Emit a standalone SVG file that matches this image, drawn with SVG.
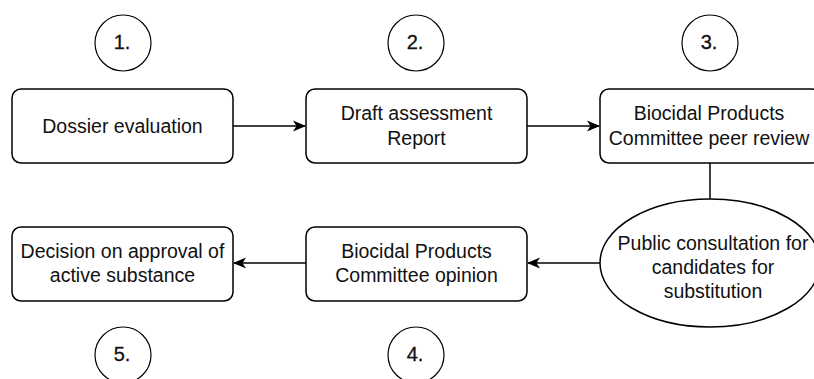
<svg xmlns="http://www.w3.org/2000/svg" width="814" height="379" viewBox="0 0 814 379">
<style>
.box{fill:#fff;stroke:#000;stroke-width:1.5}
.num{fill:#fff;stroke:#000;stroke-width:1.2}
text{font-family:"Liberation Sans",Arial,sans-serif;font-size:19.5px;fill:#111;text-anchor:middle}
.n{font-size:20px;stroke:#111;stroke-width:0.3}
.edge{fill:none;stroke:#000;stroke-width:1.5}
</style>
<defs>
<marker id="arr" markerWidth="14" markerHeight="12" refX="12" refY="6" orient="auto" markerUnits="userSpaceOnUse">
<path d="M0,0.5 L13,6 L0,11.5 L3.5,6 Z" fill="#000"/>
</marker>
</defs>
<rect width="814" height="379" fill="#fff"/>
<g id="connectors">
<line class="edge" x1="233" y1="126" x2="305" y2="126" marker-end="url(#arr)"/>
<line class="edge" x1="527" y1="126" x2="599" y2="126" marker-end="url(#arr)"/>
<line class="edge" x1="710" y1="163" x2="710" y2="199"/>
<line class="edge" x1="600" y1="263" x2="528" y2="263" marker-end="url(#arr)"/>
<line class="edge" x1="306" y1="263" x2="234" y2="263" marker-end="url(#arr)"/>
</g>
<g id="c1"><circle class="num" cx="123" cy="43" r="28"/><text class="n" x="122" y="49">1.</text></g>
<g id="c2"><circle class="num" cx="416" cy="43" r="28"/><text class="n" x="415" y="49">2.</text></g>
<g id="c3"><circle class="num" cx="710" cy="43" r="28"/><text class="n" x="709" y="49">3.</text></g>
<g id="c4"><circle class="num" cx="416" cy="355" r="28"/><text class="n" x="415" y="361">4.</text></g>
<g id="c5"><circle class="num" cx="123" cy="355" r="28"/><text class="n" x="122" y="361">5.</text></g>
<g id="n1"><rect class="box" x="12" y="89" width="221" height="74" rx="9"/><text x="122.5" y="133">Dossier evaluation</text></g>
<g id="n2"><rect class="box" x="306" y="89" width="221" height="74" rx="9"/><text x="416.5" y="120">Draft assessment</text><text x="416.5" y="145">Report</text></g>
<g id="n3"><rect class="box" x="600" y="89" width="221" height="74" rx="9"/><text x="709" y="120">Biocidal Products</text><text x="709" y="145">Committee peer review</text></g>
<g id="n3b"><ellipse class="box" cx="710" cy="263" rx="110" ry="64"/><text x="713" y="250">Public consultation for</text><text x="713" y="274">candidates for</text><text x="713" y="298">substitution</text></g>
<g id="n4"><rect class="box" x="306" y="227" width="221" height="74" rx="9"/><text x="416.5" y="258">Biocidal Products</text><text x="416.5" y="282">Committee opinion</text></g>
<g id="n5"><rect class="box" x="12" y="227" width="221" height="74" rx="9"/><text x="122.5" y="258">Decision on approval of</text><text x="122.5" y="282">active substance</text></g>
</svg>
